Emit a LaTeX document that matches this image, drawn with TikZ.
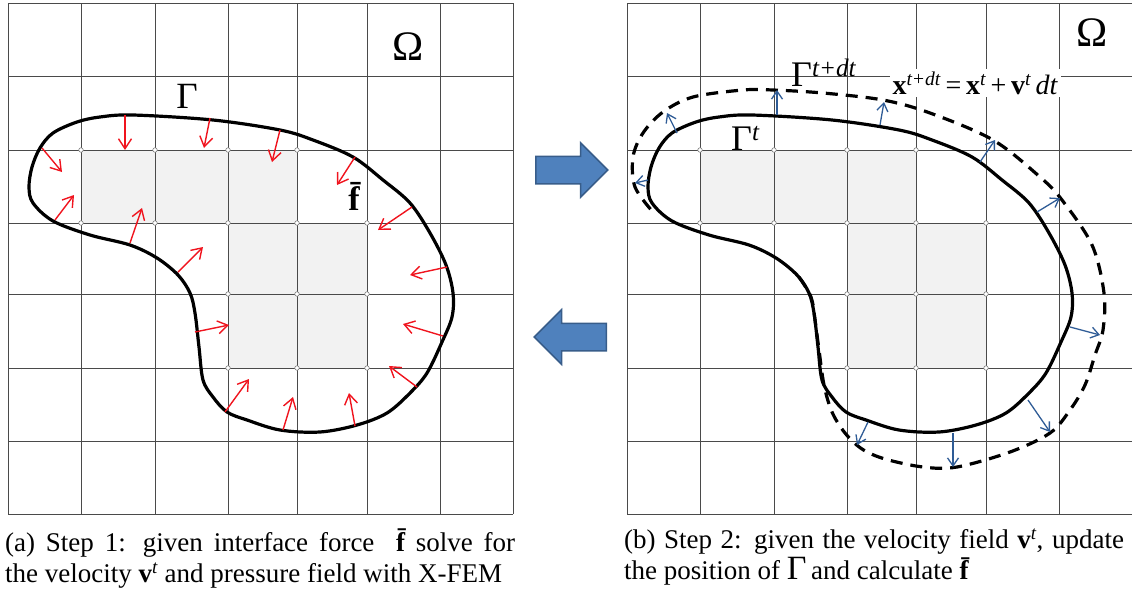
\documentclass[tikz,border=0pt]{standalone}
\usepackage{fontspec}
\setmainfont{Liberation Serif}
\usepackage{xcolor}
\usepackage{tikz}
\usetikzlibrary{arrows.meta, shapes.arrows}
\definecolor{gridline}{HTML}{4A4A4A}
\definecolor{cellbg}{HTML}{F2F2F2}
\definecolor{force}{HTML}{F0141E}
\definecolor{velocity}{HTML}{2F5C96}
\definecolor{stepfill}{HTML}{4F81BD}
\definecolor{stepdraw}{HTML}{385D8A}
\tikzset{
  grid line/.style={
    gridline,
    line width=0.9pt
  },
  cell/.style={fill=cellbg},
  grid node/.style={
    circle, draw=gray, fill=white,
    line width=0.6pt, inner sep=0pt,
    minimum size=4.5pt
  },
  interface/.style={
    line width=3.2pt, line join=round
  },
  new interface/.style={
    interface, dash pattern=on 12pt off 8pt
  },
  force arrow/.style={
    -{Straight Barb[length=10pt,width=13pt]},
    force, line width=1.4pt
  },
  velocity arrow/.style={
    -{Straight Barb[length=8pt,width=11pt]},
    velocity, line width=1.3pt
  },
  step arrow/.style={
    single arrow, draw=stepdraw, fill=stepfill,
    line width=1.5pt, inner sep=13pt,
    minimum width=53pt, minimum height=72pt,
    single arrow head extend=13.5pt
  },
  caption/.style={
    anchor=north west, align=justify, inner sep=0pt,
    font=\fontsize{27}{31}\selectfont
  },
  label/.style={inner sep=0pt}
}
\newcommand{\drawinterface}{%
  \draw[interface] plot[smooth cycle, tension=0.55] coordinates {
    (40,148) (53,133) (77,122) (100,117) (133,115) (213,120) (280,130)
    (313,140) (353,157) (383,180) (410,203) (430,233) (446,265) (453,293)
    (452,317) (442,342) (427,373) (410,393) (387,413) (357,425) (320,432)
    (280,430) (247,420) (227,412) (213,397) (203,380) (199,347) (195,313)
    (190,293) (178,275) (157,258) (130,245) (90,235) (53,221)
    (33,203) (29,187) (32,167)};%
}

\begin{document}
\begin{tikzpicture}[x=1pt, y=-1pt]
  \useasboundingbox (0,0) rectangle (1132,590);

  % Grid, enriched cells and interface (both panels)
  \foreach \dx in {0,619} {
    \begin{scope}[xshift=\dx pt]
      \fill[cell] (81,150) rectangle (297,223);
      \fill[cell] (228,223) rectangle (367,368);
      \foreach \gx in {8,81,155,228,297,367,440,513}
        \draw[grid line] (\gx,3) -- (\gx,514);
      \foreach \gy in {3,76,150,223,294,368,441,514}
        \draw[grid line] (8,\gy) -- (513,\gy);
      \foreach \px/\py [count=\k] in {81/150,155/150,228/150,297/150,
          81/223,155/223,228/223,297/223,367/223,
          228/294,297/294,367/294,228/368,297/368,367/368}
        \node[grid node] (n\dx-\k) at (\px,\py) {};
      \drawinterface
    \end{scope}
  }

  % Step 1: interface force
  \foreach \sx/\sy/\ex/\ey in {125/115/125/150, 210/118/204/148, 280/130/272/162,
      355/157/337/185, 412/207/378/230, 447/267/410/275, 42/148/62/172,
      55/220/74/195, 130/243/142/208, 178/272/203/247, 195/332/229/325,
      443/336/403/324, 417/387/389/366, 225/412/249/379, 283/430/293/397,
      355/426/349/393}
    \draw[force arrow] (\sx,\sy) -- (\ex,\ey);
  \node[label, font=\fontsize{42}{42}\selectfont] (omegaL) at (408,47) {Ω};
  \node[label, font=\fontsize{37}{37}\selectfont] (gammaL) at (187,96) {Γ};
  \node[label, font=\fontsize{34}{34}\selectfont\bfseries] (fbar) at (354,196) {\={f}};

  % Step 2: interface update
  \node[fill=white, inner sep=3pt, font=\fontsize{28}{28}\selectfont] (update) at (975,83)
    {{\bfseries x}\textsuperscript{\itshape t+dt}\,=\,{\bfseries x}\textsuperscript{\itshape t}\,+\,{\bfseries v}\textsuperscript{\itshape t}\,{\itshape dt}};
  \draw[new interface] plot[smooth, tension=0.55] coordinates {
    (799,277) (811,297) (815,320) (819,350) (824,385) (832,412) (845,433)
    (862,449) (885,459) (923,467) (957,467) (1010,452) (1050,433) (1070,410)
    (1085,385) (1095,355) (1103,330) (1104,293) (1092,245) (1062,200)
    (1040,177) (993,140) (930,113) (883,100) (823,93) (773,90) (743,90)
    (693,97) (663,112) (643,133) (633,157) (635,187) (653,212)};
  \foreach \sx/\sy/\ex/\ey in {677/133/667/113, 777/115/777/90, 880/125/884/102,
      980/162/995/140, 1037/212/1060/198, 648/180/635/183, 1070/327/1100/335,
      1028/400/1050/432, 953/433/953/467, 868/422/857/445}
    \draw[velocity arrow] (\sx,\sy) -- (\ex,\ey);
  \node[label, font=\fontsize{42}{42}\selectfont] (omegaR) at (1092,33) {Ω};
  \node[label, anchor=base west, font=\fontsize{36}{36}\selectfont] (gammaNew) at (791,86)
    {Γ\textsuperscript{\itshape t+dt}};
  \node[label, anchor=base west, font=\fontsize{36}{36}\selectfont] (gammaOld) at (731,150)
    {Γ\textsuperscript{\itshape t}};

  % Iteration arrows
  \node[step arrow, anchor=tail] (forward) at (535,170) {};
  \node[step arrow, shape border rotate=180, anchor=tail] (backward) at (607,337) {};

  % Captions
  \node[caption, text width=510pt] (capA) at (5,529)
    {\parfillskip=0pt (a) Step 1: given interface force \ {\bfseries\={f}} solve for\linebreak
     the velocity {\bfseries v}\textsuperscript{\itshape t} and pressure field with X-FEM};
  \node[caption, text width=500pt] (capB) at (624,529)
    {(b) Step 2: given the velocity field {\bfseries v}\textsuperscript{\itshape t}, update\linebreak
     the position of {\fontsize{34}{31}\selectfont Γ}\,and calculate {\bfseries\={f}}};
\end{tikzpicture}
\end{document}
